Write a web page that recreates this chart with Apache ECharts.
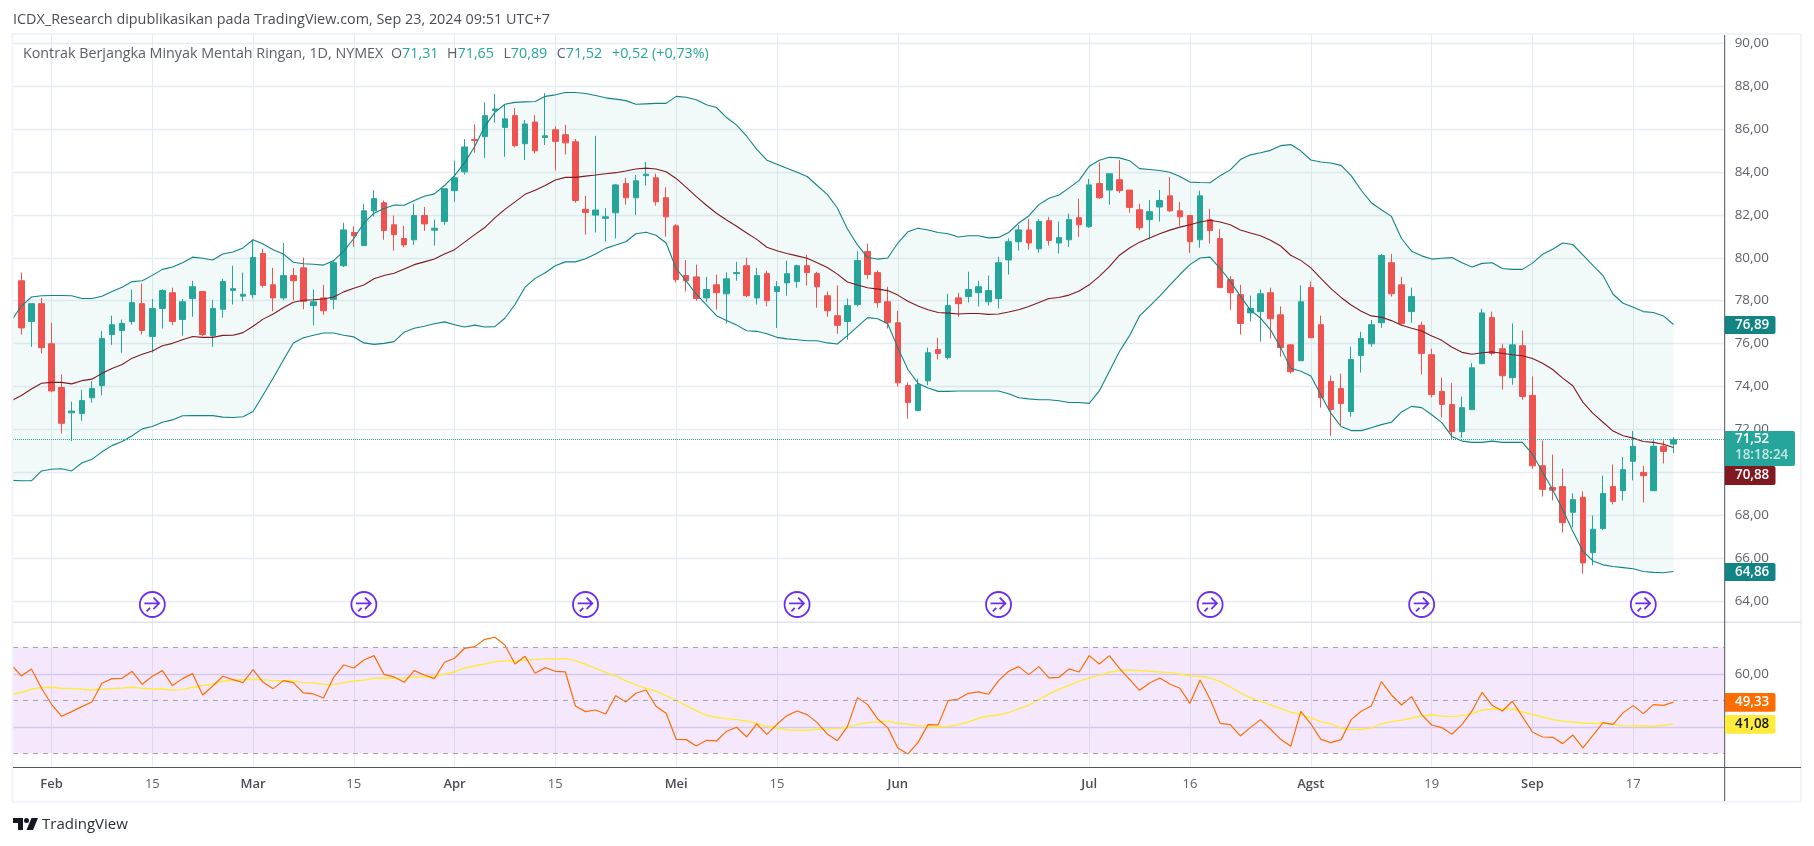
<!DOCTYPE html>
<html>
<head>
<meta charset="utf-8">
<style>html,body{margin:0;padding:0;background:#fff}#c{width:1814px;height:846px}</style>
<script src="https://cdn.jsdelivr.net/npm/echarts@6/dist/echarts.min.js"></script>
</head>
<body>
<div id="c"></div>
<script>
const opens = [78.93,77.03,77.86,75.99,73.95,72.77,72.74,73.47,74.04,76.42,
76.61,77.03,77.86,76.33,77.64,78.37,77.12,78.10,78.43,76.37,
77.60,78.48,78.21,78.28,80.20,78.74,78.13,79.17,79.53,77.77,
78.13,78.06,79.63,81.18,80.57,82.19,82.57,81.54,80.90,80.84,
81.97,81.29,81.69,83.13,84.01,85.52,85.65,86.87,86.08,86.63,
85.32,86.33,85.61,85.97,85.74,85.41,82.26,81.99,81.84,82.10,
83.46,82.80,83.83,83.73,82.80,81.49,79.17,79.11,78.13,78.74,
78.32,79.26,79.63,78.13,79.26,78.43,78.83,78.89,79.63,79.26,
78.23,77.30,77.03,77.82,80.29,79.31,77.95,76.97,74.04,72.88,
74.26,75.72,75.35,78.13,78.19,78.37,77.95,78.10,79.90,80.75,
81.30,80.42,81.73,80.69,80.84,81.87,81.45,83.46,83.16,83.64,
83.16,82.24,81.78,82.37,82.89,82.19,81.97,80.84,81.78,80.90,
78.98,78.28,77.43,77.49,78.37,77.34,75.94,75.20,78.61,76.88,
74.23,73.90,72.83,75.44,75.99,76.97,79.77,78.74,77.49,76.85,
75.48,73.77,73.16,71.89,72.92,75.06,77.21,75.76,74.41,75.90,
73.58,70.30,69.29,69.33,68.13,68.83,66.25,67.37,69.33,69.14,
70.51,69.99,69.14,71.21,71.31];
const closes = [76.73,77.86,75.81,73.79,72.28,72.85,73.34,73.90,76.24,76.88,
76.94,77.91,76.61,77.64,78.47,77.03,77.95,78.65,76.42,77.64,
78.89,78.56,78.30,80.01,78.71,78.13,79.17,78.93,77.97,77.95,
77.53,79.77,81.30,81.03,82.19,82.76,81.27,81.08,80.60,81.97,
81.58,81.38,83.22,83.73,85.17,85.47,86.63,86.94,86.48,85.23,
86.24,84.99,85.69,85.43,85.36,82.67,82.11,82.23,81.91,83.40,
82.80,83.59,83.90,82.61,81.91,78.98,78.93,78.10,78.52,78.37,
79.02,79.31,78.23,79.17,78.00,78.65,79.26,79.63,79.31,78.65,
77.53,76.85,77.77,79.87,79.22,77.91,76.97,74.17,73.25,74.08,
75.57,75.54,77.77,77.86,78.52,78.65,78.47,79.77,80.75,81.30,
80.69,81.69,80.81,80.94,81.78,81.54,83.40,82.80,83.92,83.13,
82.35,81.40,82.15,82.67,82.19,81.91,80.75,82.89,81.27,78.61,
78.37,76.94,77.64,78.32,77.16,75.81,74.69,77.95,76.27,73.47,
72.92,73.20,75.26,76.24,76.88,80.11,78.32,76.94,78.19,75.54,
73.62,73.16,71.89,73.01,74.87,77.43,75.54,74.50,75.94,73.53,
70.30,69.20,69.16,67.65,68.72,65.77,67.34,69.01,68.63,70.12,
71.21,69.84,71.21,70.97,71.52];
const lows = [76.42,75.85,75.54,73.73,71.80,71.45,72.40,73.25,73.58,75.94,
75.57,76.88,76.42,75.57,76.70,76.85,76.37,77.25,76.35,75.85,
77.21,77.82,77.97,78.11,78.61,77.51,78.02,78.02,77.60,76.85,
77.34,77.60,79.57,80.51,80.57,81.93,80.84,80.33,80.49,80.60,
81.25,80.57,81.54,82.61,83.88,84.90,84.66,86.31,84.71,85.15,
84.56,84.86,85.26,84.07,84.82,82.57,81.08,81.18,80.75,80.90,
82.48,82.00,83.37,82.43,80.99,78.85,78.43,78.00,77.93,77.58,
76.94,78.93,78.17,77.82,77.73,76.73,78.23,78.61,78.71,77.67,
77.25,76.46,76.18,77.73,79.02,77.67,76.70,73.99,72.50,72.83,
74.06,75.26,75.26,77.25,77.91,77.73,77.77,77.64,79.22,80.33,
80.38,80.23,80.57,80.20,80.51,80.97,81.40,82.74,82.48,83.02,
82.10,81.27,80.86,81.69,82.13,81.49,80.23,80.47,80.66,78.61,
77.58,76.42,77.03,76.09,76.24,75.39,74.60,75.20,76.27,73.01,
71.70,72.20,72.59,74.65,75.85,76.73,78.19,76.83,76.97,74.56,
73.49,72.55,71.52,71.61,72.90,75.06,75.44,73.86,74.08,73.38,
70.16,68.87,68.68,67.19,67.43,65.27,65.66,67.30,68.50,68.68,
69.62,68.59,69.14,70.41,70.89];
const highs = [79.31,77.86,78.13,76.97,74.56,73.29,73.84,74.25,76.59,77.30,
77.12,78.52,78.80,78.08,78.54,78.61,78.08,78.93,78.43,78.04,
79.02,79.63,79.31,80.84,80.42,79.53,80.69,79.53,80.01,78.52,
78.74,79.87,81.63,81.47,82.52,83.16,82.67,81.97,81.49,82.52,
82.37,81.78,83.22,84.53,85.54,86.22,87.25,87.64,87.14,86.98,
86.43,86.65,87.68,86.13,86.20,85.54,82.89,85.69,82.32,83.44,
83.73,83.86,84.47,83.92,83.29,81.56,79.90,79.68,79.11,79.22,
79.31,79.81,80.01,79.53,79.40,78.91,79.87,79.68,80.14,79.35,
78.43,78.71,78.10,80.31,80.66,79.42,78.65,77.53,74.19,74.36,
75.81,76.27,78.32,78.37,79.35,78.93,79.17,80.05,80.90,81.53,
81.82,81.80,81.91,81.69,82.06,82.76,83.68,84.45,83.92,84.56,
83.16,82.52,82.70,83.16,83.77,82.61,81.97,83.13,82.28,81.34,
79.15,78.74,78.23,78.52,78.61,77.73,75.98,78.71,78.89,77.30,
74.50,74.60,75.85,76.55,77.10,80.18,80.18,79.11,78.61,77.03,
75.76,74.41,74.17,73.53,75.09,77.62,77.49,75.99,76.94,76.61,
74.47,71.48,70.82,70.17,69.01,69.11,67.98,69.84,70.36,70.71,
71.92,70.30,71.57,71.48,71.65];
const bbUpper = [77.06,77.75,78.17,78.23,78.24,78.24,78.23,78.10,78.10,78.21,
78.43,78.63,78.89,78.93,79.18,79.46,79.57,79.77,80.03,79.98,
79.90,80.18,80.27,80.46,80.84,80.64,80.38,80.18,79.79,79.72,
79.70,79.66,79.87,80.31,80.90,81.62,82.08,82.30,82.46,82.45,
82.67,82.87,82.98,83.37,83.83,84.44,85.19,86.13,86.78,87.16,
87.25,87.27,87.29,87.53,87.60,87.71,87.71,87.66,87.57,87.46,
87.40,87.33,87.16,87.18,87.20,87.20,87.53,87.49,87.37,87.14,
87.01,86.54,86.19,85.67,85.06,84.55,84.36,84.18,83.99,83.79,
83.37,82.96,82.32,81.34,80.60,80.01,79.94,79.99,80.68,81.21,
81.38,81.30,81.18,81.12,80.97,81.03,81.03,80.93,80.95,81.18,
81.62,81.95,82.48,82.78,82.93,83.26,83.61,84.27,84.55,84.69,
84.66,84.53,84.16,84.12,84.07,83.99,83.79,83.53,83.51,83.50,
83.83,84.10,84.58,84.80,84.90,85.01,85.23,85.28,84.99,84.56,
84.47,84.42,84.31,83.83,83.15,82.57,82.24,81.93,80.90,80.31,
80.09,79.94,79.98,80.01,79.77,79.57,79.74,79.77,79.50,79.46,
79.46,79.75,80.16,80.40,80.69,80.62,80.14,79.65,79.17,78.30,
77.88,77.69,77.49,77.45,77.29,76.89];
const bbMiddle = [73.33,73.58,73.88,74.15,74.19,74.19,74.12,74.27,74.34,74.61,
74.84,75.02,75.32,75.50,75.65,75.90,76.01,76.18,76.33,76.29,
76.29,76.38,76.39,76.51,76.81,77.14,77.38,77.67,77.93,78.02,
78.04,78.08,78.17,78.41,78.58,78.73,79.02,79.17,79.28,79.48,
79.68,79.81,79.94,80.18,80.38,80.73,81.08,81.41,81.86,82.26,
82.61,82.96,83.15,83.37,83.63,83.75,83.75,83.81,83.86,83.92,
83.97,84.05,84.14,84.18,84.14,84.01,83.70,83.28,82.85,82.45,
82.08,81.76,81.47,81.16,80.86,80.49,80.33,80.20,80.09,79.98,
79.77,79.55,79.24,78.87,78.73,78.60,78.54,78.47,78.26,77.97,
77.75,77.58,77.45,77.42,77.38,77.40,77.40,77.36,77.38,77.47,
77.58,77.73,77.91,78.10,78.15,78.26,78.45,78.74,79.13,79.59,
80.12,80.46,80.73,80.92,81.12,81.29,81.43,81.54,81.67,81.75,
81.67,81.54,81.30,81.16,81.03,80.82,80.55,80.12,79.88,79.53,
79.04,78.56,78.15,77.80,77.51,77.29,77.23,77.07,76.85,76.71,
76.59,76.35,76.15,75.83,75.59,75.50,75.57,75.61,75.55,75.48,
75.43,75.30,75.08,74.79,74.39,74.03,73.27,72.74,72.33,71.92,
71.70,71.59,71.43,71.39,71.30,71.15];
const bbLower = [69.62,69.60,69.60,70.06,70.14,70.16,70.06,70.43,70.60,70.95,
71.24,71.43,71.70,72.02,72.13,72.33,72.44,72.63,72.64,72.64,
72.64,72.57,72.55,72.59,72.83,73.60,74.39,75.22,76.03,76.27,
76.39,76.49,76.49,76.39,76.31,76.03,75.96,76.01,76.09,76.53,
76.71,76.81,76.92,77.01,76.88,76.77,76.86,76.77,76.79,77.18,
77.82,78.63,79.04,79.30,79.63,79.81,79.81,79.96,80.18,80.44,
80.60,80.75,81.12,81.19,81.05,80.69,79.50,78.91,78.30,77.80,
77.30,77.08,76.86,76.60,76.57,76.46,76.29,76.22,76.18,76.13,
76.13,76.03,75.98,76.37,76.79,77.21,77.16,76.92,75.81,74.79,
74.15,73.93,73.77,73.77,73.79,73.79,73.79,73.79,73.79,73.66,
73.47,73.42,73.38,73.38,73.33,73.25,73.25,73.21,73.79,74.71,
75.63,76.37,77.29,77.75,78.21,78.73,79.22,79.68,79.99,80.03,
79.50,78.91,78.21,77.56,77.19,76.64,75.81,74.85,74.71,74.49,
73.60,72.74,72.13,71.94,71.94,72.07,72.22,72.33,72.81,73.07,
73.01,72.68,72.31,71.67,71.45,71.39,71.39,71.45,71.39,71.39,
71.39,70.84,70.01,69.18,68.26,67.25,66.32,65.86,65.68,65.60,
65.55,65.50,65.37,65.33,65.31,65.37];
const rsiValues = [63.33,59.18,61.83,54.53,48.49,43.96,45.72,47.61,49.37,56.42,
58.18,58.30,60.94,56.04,59.06,61.20,55.54,58.18,60.06,52.01,
55.41,59.06,57.80,56.67,61.57,56.79,54.40,57.42,56.67,52.77,
52.39,50.88,58.68,63.33,62.20,65.22,66.86,59.81,58.81,56.79,
61.20,59.56,58.18,64.34,65.85,69.62,70.25,73.02,73.78,70.88,
63.71,66.60,60.19,62.33,60.94,60.69,47.86,45.72,46.35,44.84,
51.76,49.37,52.64,53.90,47.74,45.10,35.28,35.16,32.77,34.91,
34.66,38.30,39.81,36.16,41.07,37.17,40.94,44.21,45.97,44.59,
41.57,37.30,34.78,40.06,51.01,48.37,42.96,39.69,32.01,29.75,
34.03,40.82,40.69,49.88,50.50,52.64,53.15,52.27,57.42,60.94,
62.71,59.69,62.71,58.43,58.68,61.83,60.69,66.86,63.71,66.86,
62.08,57.93,53.77,56.54,58.43,56.16,54.53,48.87,57.67,50.38,
41.32,40.82,36.54,39.69,42.70,39.06,35.28,32.64,45.85,41.07,
35.28,34.03,35.16,42.70,45.85,47.86,57.05,52.01,48.24,51.38,
44.59,40.69,39.69,37.17,40.82,45.97,53.02,48.11,45.97,49.62,
43.84,38.05,36.16,36.04,33.65,36.92,32.01,36.79,41.57,40.94,
45.35,47.99,44.97,48.37,48.11,49.33];
const rsiMa = [52.01,53.02,54.15,54.78,54.91,54.53,54.40,54.15,53.90,54.15,
54.40,54.65,54.91,54.53,54.28,54.28,53.90,54.03,54.91,55.54,
56.16,57.17,57.55,57.80,57.93,57.80,57.42,57.42,57.30,56.67,
56.54,56.04,55.91,56.67,57.30,57.55,58.30,58.43,58.30,58.43,
58.68,58.81,59.18,59.94,60.69,62.20,62.96,63.71,64.59,64.84,
64.84,65.22,65.35,65.72,65.60,65.72,64.97,63.59,62.08,60.57,
59.18,57.30,55.79,54.53,53.40,51.76,50.00,47.99,46.10,44.34,
43.59,43.08,42.70,42.08,41.32,40.19,39.56,38.81,38.68,38.68,
39.06,39.31,39.31,39.81,40.94,41.57,41.82,42.08,41.45,40.94,
40.44,40.19,39.94,40.19,40.82,41.82,43.21,44.09,44.47,45.35,
46.86,48.11,50.38,52.39,54.15,55.66,57.17,58.43,59.43,60.57,
61.20,61.45,61.20,60.94,60.69,60.44,59.94,59.18,59.06,58.43,
57.05,55.03,52.77,50.88,49.62,48.24,46.98,45.47,44.72,43.33,
41.95,41.07,39.43,38.93,39.06,39.56,41.07,41.95,42.45,43.33,
44.09,44.47,44.09,43.84,44.21,44.97,46.35,46.73,46.73,46.73,
45.60,44.72,43.71,42.70,42.08,41.82,41.32,41.32,41.32,40.94,
40.44,40.31,40.31,40.19,40.56,41.08];
const timeTicks = [3,13,23,33,43,53,65,75,87,106,116,128,140,150,160];
const timeLabels = ['Feb','15','Mar','15','Apr','15','Mei','15','Jun','Jul','16','Agst','19','Sep','17'];
const eventBars = [13,34,56,77,97,118,139,161];
const eventLevel = 63.83;
const priceTicks = [64,66,68,70,72,74,76,78,80,82,84,86,88,90];
const rsiGrid = [40,60];
const rsiLabelTicks = [60];
const rsiBands = [70,50,30];
const lastClose = 71.52;

const FONT = '"Open Sans", sans-serif';
const GREEN = '#26a69a', RED = '#ef5350', TEAL = '#138484', MAROON = '#801922';
const comma = v => v.toFixed(2).replace('.', ',');
const lineData = a => a.map((v, i) => [i - 1, v]);
const candles = opens.map((o, i) => [i, o, closes[i], lows[i], highs[i]]);
const xMin = -0.829, xMax = 169.08;

function xAxis(gridIndex, showLabels) {
  return {
    type: 'value', gridIndex, min: xMin, max: xMax, position: 'bottom',
    axisLine: {show: false},
    axisTick: {show: false, customValues: timeTicks},
    splitLine: {show: true, lineStyle: {color: '#e4ebf2', width: 1}},
    axisLabel: {
      show: showLabels, customValues: timeTicks, margin: 10, fontFamily: FONT, fontSize: 13,
      hideOverlap: false, showMinLabel: true, showMaxLabel: true,
      formatter: v => {
        const t = timeLabels[timeTicks.indexOf(v)];
        return /\d/.test(t) ? '{n|' + t + '}' : '{b|' + t + '}';
      },
      rich: {
        n: {fontFamily: FONT, fontSize: 13, color: '#5d606b'},
        b: {fontFamily: FONT, fontSize: 13, fontWeight: 600, color: '#4a4d57'}
      }
    }
  };
}
function yAxis(gridIndex, min, max, gridTicks, labelTicks) {
  return {
    type: 'value', gridIndex, position: 'right', min, max, scale: true,
    axisLine: {show: false},
    axisTick: {show: false, customValues: gridTicks},
    splitLine: {show: true, lineStyle: {color: gridIndex ? '#dcdcf2' : '#e8ecf2', width: 1.4}},
    axisLabel: {
      customValues: labelTicks, margin: 10, fontFamily: FONT, fontSize: 13.4, color: '#5d606b',
      padding: [0, 0, 5, 0], formatter: comma, showMinLabel: true, showMaxLabel: true
    }
  };
}
function plainLine(name, data, color, xi, yi, z, width) {
  return {name, type: 'line', data, xAxisIndex: xi, yAxisIndex: yi, showSymbol: false, symbol: 'none',
    silent: true, z, lineStyle: {color, width: width || 1.1}};
}
function badge(y, h, fill, text, textFill) {
  return [
    {type: 'rect', z: 100, shape: {x: 1725, y, width: 50.5, height: h, r: [0, 2, 2, 0]}, style: {fill}},
    {type: 'text', z: 101, style: {x: 1735, y: y + h / 2, text, fill: textFill, font: '600 13.4px ' + FONT, verticalAlign: 'middle'}}
  ];
}
function legendPiece(x, label, value) {
  return {type: 'text', z: 101, style: {x, y: 53.7, verticalAlign: 'middle',
    text: '{a|' + label + '}{b|' + value + '}',
    rich: {a: {fill: '#5d606b', font: '14.3px ' + FONT}, b: {fill: GREEN, font: '14.3px ' + FONT}}}};
}

const chart = echarts.init(document.getElementById('c'), null, {renderer: 'canvas'});
chart.setOption({
  animation: false,
  backgroundColor: '#ffffff',
  grid: [
    {left: 13, top: 34.8, width: 1711.7, height: 587.5},
    {left: 13, top: 622.3, width: 1711.7, height: 145}
  ],
  xAxis: [xAxis(0, false), xAxis(1, true)],
  yAxis: [
    yAxis(0, 63.0, 90.4, priceTicks, priceTicks),
    yAxis(1, 24.72, 79.43, rsiGrid, rsiLabelTicks)
  ],
  series: [
    {
      name: 'bbFill', type: 'custom', silent: true, z: 1, clip: true,
      data: bbUpper.map((u, i) => [i - 1, u, bbLower[i]]),
      encode: {x: 0, y: [1, 2]},
      renderItem: (params, api) => {
        if (params.dataIndex !== 0) return;
        const top = bbUpper.map((v, i) => api.coord([i - 1, v]));
        const bottom = bbLower.map((v, i) => api.coord([i - 1, v])).reverse();
        return {type: 'polygon', shape: {points: top.concat(bottom)}, style: {fill: 'rgba(38,166,154,0.06)'}};
      }
    },
    {
      name: 'price', type: 'candlestick', data: candles, barWidth: 6, silent: true, z: 2,
      itemStyle: {color: GREEN, color0: RED, borderColor: GREEN, borderColor0: RED, borderWidth: 1},
      markLine: {silent: true, symbol: 'none', label: {show: false}, animation: false,
        lineStyle: {color: GREEN, type: 'dotted', width: 1}, data: [{yAxis: lastClose}]}
    },
    plainLine('upper', lineData(bbUpper), TEAL, 0, 0, 3),
    plainLine('middle', lineData(bbMiddle), MAROON, 0, 0, 3),
    plainLine('lower', lineData(bbLower), TEAL, 0, 0, 3),
    {
      name: 'events', type: 'scatter', silent: true, z: 4, data: eventBars.map(b => [b, eventLevel]),
      symbol: 'path://M12 1a11 11 0 1 0 0 22a11 11 0 1 0 0-22z M5 11h13 M13 6l5 5l-5 5 M7 18l3-3',
      symbolSize: 25, itemStyle: {color: '#ffffff', borderColor: '#6a2cf5', borderWidth: 1.8, opacity: 1}
    },
    {
      name: 'rsi', type: 'line', data: lineData(rsiValues), xAxisIndex: 1, yAxisIndex: 1, showSymbol: false, symbol: 'none', silent: true, z: 3,
      lineStyle: {color: '#ff6d00', width: 1.2},
      markArea: {silent: true, itemStyle: {color: 'rgba(155,30,225,0.1)'}, data: [[{yAxis: 70}, {yAxis: 30}]]},
      markLine: {silent: true, symbol: 'none', label: {show: false},
        lineStyle: {color: '#a8a2b0', type: [5, 5], width: 1}, data: rsiBands.map(v => ({yAxis: v}))}
    },
    plainLine('rsiMa', lineData(rsiMa), '#ffeb3b', 1, 1, 2, 1.4)
  ],
  graphic: [
    {type: 'rect', z: 90, shape: {x: 12.5, y: 34, width: 1788.5, height: 767.7}, style: {fill: 'none', stroke: '#f0f3fa', lineWidth: 2}},
    {type: 'line', z: 90, shape: {x1: 13, y1: 622.3, x2: 1801, y2: 622.3}, style: {stroke: '#e0e3eb', lineWidth: 1.6}},
    {type: 'line', z: 90, shape: {x1: 13, y1: 767.5, x2: 1801, y2: 767.5}, style: {stroke: '#50535e', lineWidth: 1}},
    {type: 'line', z: 90, shape: {x1: 1724.7, y1: 35, x2: 1724.7, y2: 801}, style: {stroke: '#50535e', lineWidth: 1}},
    {type: 'text', z: 101, style: {x: 13, y: 19.5, verticalAlign: 'middle', text: 'ICDX_Research dipublikasikan pada TradingView.com, Sep 23, 2024 09:51 UTC+7', fill: '#4a4d57', font: '14.4px ' + FONT}},
    {type: 'text', z: 101, style: {x: 23, y: 53.7, verticalAlign: 'middle', text: 'Kontrak Berjangka Minyak Mentah Ringan, 1D, NYMEX', fill: '#5d606b', font: '14.3px ' + FONT}},
    legendPiece(391, 'O', '71,31'),
    legendPiece(447, 'H', '71,65'),
    legendPiece(503.4, 'L', '70,89'),
    legendPiece(556.7, 'C', '71,52'),
    {type: 'text', z: 101, style: {x: 612, y: 53.7, verticalAlign: 'middle', text: '+0,52 (+0,73%)', fill: GREEN, font: '14.3px ' + FONT}},
    ...badge(316, 18, TEAL, '76,89', '#ffffff'),
    {type: 'rect', z: 100, shape: {x: 1725, y: 431, width: 70, height: 35, r: [0, 2, 2, 0]}, style: {fill: GREEN}},
    {type: 'text', z: 101, style: {x: 1735, y: 439.5, verticalAlign: 'middle', text: '71,52', fill: '#ffffff', font: '600 13.4px ' + FONT}},
    {type: 'text', z: 101, style: {x: 1735, y: 455, verticalAlign: 'middle', text: '18:18:24', fill: 'rgba(255,255,255,0.72)', font: '600 13.4px ' + FONT}},
    ...badge(466, 19, MAROON, '70,88', '#ffffff'),
    ...badge(563, 18, TEAL, '64,86', '#ffffff'),
    ...badge(693, 18.7, '#ff6d00', '49,33', '#ffffff'),
    ...badge(715, 18.7, '#ffeb3b', '41,08', '#131722'),
    {type: 'polygon', z: 101, shape: {points: [[13,818],[23,818],[23,830],[18,830],[18,823],[13,823]]}, style: {fill: '#131722'}},
    {type: 'circle', z: 101, shape: {cx: 26.5, cy: 820.5, r: 2.5}, style: {fill: '#131722'}},
    {type: 'polygon', z: 101, shape: {points: [[31.5,818],[38,818],[33,830],[26.5,830]]}, style: {fill: '#131722'}},
    {type: 'text', z: 101, style: {x: 42, y: 825, verticalAlign: 'middle', text: 'TradingView', fill: '#2a2e39', font: '15px ' + FONT}}
  ]
});
</script>
</body>
</html>
